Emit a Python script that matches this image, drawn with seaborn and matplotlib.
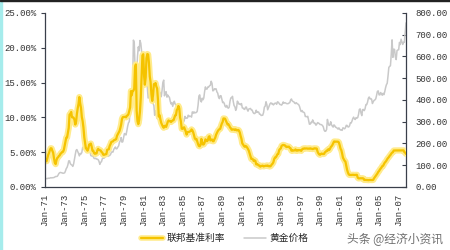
import numpy as np
import pandas as pd
import matplotlib
matplotlib.use("Agg")
import matplotlib.pyplot as plt
import matplotlib.patheffects as pe
from matplotlib.patches import Rectangle
from matplotlib.lines import Line2D
import seaborn as sns

# ---------------- data (monthly, Jan-1971 .. Oct-2007) ----------------
start_month = "1971-01-01"
fed_rate = [
    4.14, 3.72, 3.71, 4.16, 4.63, 4.91, 5.31, 5.57, 5.55, 5.20, 4.91, 4.14,
    3.50, 3.29, 3.83, 4.17, 4.27, 4.46, 4.55, 4.80, 4.87, 5.04, 5.06, 5.33,
    5.94, 6.58, 7.09, 7.12, 7.84, 8.49, 10.40, 10.50, 10.78, 10.01, 10.03, 9.95,
    9.65, 8.97, 9.35, 10.51, 11.31, 11.93, 12.92, 12.01, 11.34, 10.06, 9.45, 8.53,
    7.13, 6.24, 5.54, 5.49, 5.22, 5.55, 6.10, 6.14, 6.24, 5.82, 5.22, 5.20,
    4.87, 4.77, 4.84, 4.82, 5.29, 5.48, 5.31, 5.29, 5.25, 5.03, 4.95, 4.65,
    4.61, 4.68, 4.69, 4.73, 5.35, 5.39, 5.42, 5.90, 6.14, 6.47, 6.51, 6.56,
    6.70, 6.78, 6.79, 6.89, 7.36, 7.60, 7.81, 8.04, 8.45, 8.96, 9.76, 10.03,
    10.07, 10.06, 10.09, 10.01, 10.24, 10.29, 10.47, 10.94, 11.43, 13.77, 13.18, 13.78,
    13.82, 14.13, 17.19, 17.61, 10.98, 9.47, 9.03, 9.61, 10.87, 12.81, 15.85, 18.90,
    19.08, 15.93, 14.70, 15.72, 18.52, 19.10, 19.04, 17.82, 15.87, 15.08, 13.31, 12.37,
    13.22, 14.78, 14.68, 14.94, 14.45, 14.15, 12.59, 10.12, 10.31, 9.71, 9.20, 8.95,
    8.68, 8.51, 8.77, 8.80, 8.63, 8.98, 9.37, 9.56, 9.45, 9.48, 9.34, 9.47,
    9.56, 9.59, 9.91, 10.29, 10.32, 11.06, 11.23, 11.64, 11.30, 9.99, 9.43, 8.38,
    8.35, 8.50, 8.58, 8.27, 7.97, 7.53, 7.88, 7.90, 7.92, 7.99, 8.05, 8.27,
    8.14, 7.86, 7.48, 6.99, 6.85, 6.92, 6.56, 6.17, 5.89, 5.85, 6.04, 6.91,
    6.43, 6.10, 6.13, 6.37, 6.85, 6.73, 6.58, 6.73, 7.22, 7.29, 6.69, 6.77,
    6.83, 6.58, 6.58, 6.87, 7.09, 7.51, 7.75, 8.01, 8.19, 8.30, 8.35, 8.76,
    9.12, 9.36, 9.85, 9.84, 9.81, 9.53, 9.24, 8.99, 9.02, 8.84, 8.55, 8.45,
    8.23, 8.24, 8.28, 8.26, 8.18, 8.29, 8.15, 8.13, 8.20, 8.11, 7.81, 7.31,
    6.91, 6.25, 6.12, 5.91, 5.78, 5.90, 5.82, 5.66, 5.45, 5.21, 4.81, 4.43,
    4.03, 4.06, 3.98, 3.73, 3.82, 3.76, 3.25, 3.30, 3.22, 3.10, 3.09, 2.92,
    3.02, 3.03, 3.07, 2.96, 3.00, 3.04, 3.06, 3.03, 3.09, 2.99, 3.02, 2.96,
    3.05, 3.25, 3.34, 3.56, 4.01, 4.25, 4.26, 4.47, 4.73, 4.76, 5.29, 5.45,
    5.53, 5.92, 5.98, 6.05, 6.01, 6.00, 5.85, 5.74, 5.80, 5.76, 5.80, 5.60,
    5.56, 5.22, 5.31, 5.22, 5.24, 5.27, 5.40, 5.22, 5.30, 5.24, 5.31, 5.29,
    5.25, 5.19, 5.39, 5.51, 5.50, 5.56, 5.52, 5.54, 5.54, 5.50, 5.52, 5.50,
    5.56, 5.51, 5.49, 5.45, 5.49, 5.56, 5.54, 5.55, 5.51, 5.07, 4.83, 4.68,
    4.63, 4.76, 4.81, 4.74, 4.74, 4.76, 4.99, 5.07, 5.22, 5.20, 5.42, 5.30,
    5.45, 5.73, 5.85, 6.02, 6.27, 6.53, 6.54, 6.50, 6.52, 6.51, 6.51, 6.40,
    5.98, 5.49, 5.31, 4.80, 4.21, 3.97, 3.77, 3.65, 3.07, 2.49, 2.09, 1.82,
    1.73, 1.74, 1.73, 1.75, 1.75, 1.75, 1.73, 1.74, 1.75, 1.75, 1.34, 1.24,
    1.24, 1.26, 1.25, 1.26, 1.26, 1.22, 1.01, 1.03, 1.01, 1.01, 1.00, 0.98,
    1.00, 1.01, 1.00, 1.00, 1.00, 1.03, 1.26, 1.43, 1.61, 1.76, 1.93, 2.16,
    2.28, 2.50, 2.63, 2.79, 3.00, 3.04, 3.26, 3.50, 3.62, 3.78, 4.00, 4.16,
    4.29, 4.49, 4.59, 4.79, 4.94, 4.99, 5.24, 5.25, 5.25, 5.25, 5.25, 5.24,
    5.25, 5.26, 5.26, 5.25, 5.25, 5.25, 5.26, 5.02, 4.94, 4.76,
]
gold_price = [
    37.9, 38.7, 38.9, 39.0, 40.5, 40.1, 40.9, 42.7, 42.0, 42.5, 42.9, 43.5,
    46.0, 48.3, 48.3, 49.0, 54.6, 62.1, 65.7, 67.0, 65.5, 64.9, 62.9, 63.9,
    65.1, 74.2, 84.4, 90.5, 102.0, 120.1, 120.2, 106.8, 102.9, 100.1, 94.8, 106.5,
    129.2, 150.2, 168.4, 172.2, 163.3, 154.1, 143.0, 154.6, 151.8, 158.8, 181.7, 183.9,
    176.3, 179.6, 178.2, 170.0, 167.3, 164.2, 165.2, 163.2, 144.3, 142.8, 142.8, 139.3,
    131.6, 130.7, 132.4, 128.2, 128.0, 125.5, 117.6, 104.1, 114.0, 116.0, 130.0, 133.6,
    132.3, 136.3, 148.3, 149.4, 146.6, 140.8, 143.4, 144.9, 149.3, 158.6, 162.2, 160.5,
    173.2, 178.2, 183.7, 175.4, 176.3, 183.7, 188.8, 206.1, 212.8, 227.3, 206.1, 207.8,
    227.3, 245.7, 242.0, 239.2, 257.6, 279.2, 294.7, 300.8, 355.1, 391.7, 392.5, 455.1,
    675.3, 665.3, 553.6, 517.4, 513.8, 600.7, 644.3, 626.5, 673.6, 661.2, 623.5, 596.7,
    557.4, 499.8, 498.2, 495.8, 479.7, 460.8, 409.3, 410.8, 443.1, 437.7, 413.3, 410.1,
    384.1, 374.3, 330.0, 350.5, 333.5, 314.7, 339.1, 364.6, 436.9, 422.3, 415.0, 444.3,
    481.3, 491.3, 419.0, 432.8, 438.4, 413.0, 422.7, 416.2, 412.4, 394.3, 382.0, 388.2,
    370.9, 386.0, 394.2, 381.4, 377.4, 377.3, 347.2, 348.0, 341.1, 340.2, 341.2, 320.2,
    302.8, 299.1, 304.0, 324.5, 316.6, 316.5, 317.2, 330.1, 323.5, 325.9, 325.0, 321.4,
    345.4, 338.9, 345.7, 340.4, 342.3, 342.6, 348.7, 376.2, 418.2, 423.6, 398.3, 391.1,
    408.3, 401.1, 408.9, 438.4, 460.2, 450.2, 450.3, 460.1, 459.8, 465.7, 467.5, 486.3,
    476.7, 442.1, 443.6, 451.7, 451.2, 451.4, 437.5, 431.4, 413.1, 406.4, 419.9, 419.4,
    404.0, 387.9, 390.2, 384.4, 371.2, 367.4, 375.0, 365.1, 362.4, 366.9, 394.3, 409.4,
    410.2, 416.8, 393.1, 374.3, 369.2, 352.3, 362.5, 394.7, 389.3, 380.8, 381.1, 378.2,
    383.6, 363.8, 363.3, 358.4, 356.8, 366.7, 367.7, 356.2, 348.7, 358.7, 359.9, 361.1,
    354.5, 353.9, 344.3, 338.6, 337.4, 340.8, 353.1, 342.9, 345.4, 344.4, 335.0, 334.8,
    329.0, 329.4, 330.1, 342.2, 367.2, 371.9, 392.0, 378.7, 355.0, 364.2, 373.8, 383.3,
    387.0, 382.0, 383.9, 377.3, 381.4, 385.6, 385.5, 380.4, 391.6, 389.8, 384.4, 379.3,
    378.6, 376.5, 382.1, 391.0, 385.2, 387.6, 386.2, 383.7, 383.1, 383.1, 386.0, 387.4,
    399.5, 404.8, 396.2, 392.8, 391.8, 385.3, 383.5, 387.5, 383.1, 381.1, 377.9, 369.3,
    354.9, 346.6, 351.8, 344.5, 343.8, 340.8, 324.1, 324.0, 322.8, 324.9, 306.0, 288.7,
    289.1, 297.5, 295.9, 308.4, 299.1, 292.3, 292.9, 284.1, 289.0, 296.0, 294.1, 291.4,
    287.3, 287.3, 285.9, 282.6, 276.4, 261.3, 256.1, 256.7, 264.7, 310.7, 293.2, 283.1,
    284.6, 300.0, 286.4, 279.9, 275.3, 285.7, 281.6, 274.5, 273.7, 270.1, 266.0, 272.0,
    265.5, 261.9, 263.1, 260.5, 272.4, 270.2, 267.5, 272.4, 283.4, 283.1, 276.2, 275.9,
    281.7, 295.5, 294.0, 302.7, 314.5, 321.2, 313.3, 310.3, 319.2, 316.6, 319.2, 333.4,
    356.9, 359.0, 340.6, 328.2, 355.7, 356.4, 351.0, 359.8, 378.9, 378.9, 389.9, 407.6,
    413.8, 404.9, 406.7, 403.0, 383.8, 392.4, 398.1, 400.5, 405.3, 420.5, 439.4, 442.1,
    424.0, 423.4, 434.2, 428.9, 421.9, 430.7, 424.5, 437.9, 456.1, 469.9, 476.7, 509.8,
    549.9, 555.0, 557.1, 610.6, 676.5, 596.2, 633.7, 632.6, 598.2, 585.8, 627.8, 629.8,
    631.2, 664.8, 654.9, 679.4, 666.9, 655.5, 665.3, 665.4, 712.7, 754.6,
]
tick_years = list(range(1971, 2008, 2))
tick_labels = ["Jan-%02d" % (y % 100) for y in tick_years]
left_ticks = [0, 5, 10, 15, 20, 25]
right_ticks = [0, 100, 200, 300, 400, 500, 600, 700, 800]
name_fed = "联邦基准利率"
name_gold = "黄金价格"
watermark = "头条 @经济小资讯"

dates = pd.date_range(start_month, periods=len(fed_rate), freq="MS")
df = pd.DataFrame({"date": dates, "fed": fed_rate, "gold": gold_price})

# ---------------- style ----------------
sns.set_style("white")
plt.rcParams["font.family"] = ["Liberation Mono", "Noto Sans CJK SC", "DejaVu Sans"]

W, H = 450, 250
fig = plt.figure(figsize=(W / 100, H / 100), dpi=100)
ax = fig.add_axes([45 / W, 1 - 187 / H, (406 - 45) / W, (187 - 13) / H])
ax2 = ax.twinx()

yellow = "#F5C300"
gray = "#C9C9C9"
glow = [pe.Stroke(linewidth=4.5, foreground="#FFEB8C"), pe.Normal()]

sns.lineplot(data=df, x="date", y="gold", ax=ax2, color=gray, linewidth=1.1, legend=False)
sns.lineplot(data=df, x="date", y="fed", ax=ax, color=yellow, linewidth=1.6, legend=False,
             path_effects=glow)

ax.set_zorder(ax2.get_zorder() + 1)
ax.patch.set_visible(False)

ax.set_xlim(dates[0], dates[-1])
ax.set_ylim(0, 25)
ax2.set_ylim(0, 800)

tick_font = {"family": ["Liberation Mono", "DejaVu Sans Mono"], "size": 6.5}
tick_pos = [pd.Timestamp(year=y, month=1, day=1) for y in tick_years]
ax.set_xticks(tick_pos)
ax.set_xticklabels(tick_labels, rotation=90, color="#333333", fontdict=tick_font)
ax.set_yticks(left_ticks)
ax.set_yticklabels(["%.2f%%" % v for v in left_ticks], color="#333333", fontdict=tick_font)
ax2.set_yticks(right_ticks)
ax2.set_yticklabels(["%.2f" % v for v in right_ticks], color="#333333", fontdict=tick_font)

ax.set_xlabel("")
ax.set_ylabel("")
ax2.set_ylabel("")
ax2.set_xlabel("")

spine_c = "#3a3f4a"
for a in (ax, ax2):
    for s in a.spines.values():
        s.set_visible(False)
ax.spines["left"].set_visible(True)
ax.spines["bottom"].set_visible(True)
ax2.spines["right"].set_visible(True)
for s in (ax.spines["left"], ax.spines["bottom"], ax2.spines["right"]):
    s.set_color(spine_c)
    s.set_linewidth(0.9)

ax.tick_params(axis="x", direction="out", length=3, width=0.8, color=spine_c, pad=2)
ax.tick_params(axis="y", direction="out", length=3, width=0.8, color=spine_c, pad=3)
ax2.tick_params(axis="y", direction="in", length=3, width=0.8, color=spine_c, pad=7)

# legend
handles = [
    Line2D([], [], color=yellow, linewidth=1.6,
           path_effects=[pe.Stroke(linewidth=4, foreground="#FFEB8C"), pe.Normal()]),
    Line2D([], [], color=gray, linewidth=1.1),
]
fig.legend(handles, [name_fed, name_gold], loc="center", bbox_to_anchor=(0.5, 1 - 238 / H),
           ncol=2, frameon=False, handlelength=2.2, handletextpad=0.4,
           columnspacing=2.0, prop={"family": ["Noto Sans CJK SC", "DejaVu Sans"], "size": 7})

# watermark
fig.text(443 / W, 1 - 239 / H, watermark, ha="right", va="center", fontsize=8.5,
         color="#6f6f6f", family=["Noto Sans CJK SC", "DejaVu Sans"])

# border decorations
fig.patches.append(Rectangle((0, 0), 2 / W, 1, transform=fig.transFigure, color="#A6ECEC", zorder=5))
fig.patches.append(Rectangle((0, 1 - 1 / H), 1, 1 / H, transform=fig.transFigure, color="#222222", zorder=5))

fig.savefig("out.png", dpi=100)
